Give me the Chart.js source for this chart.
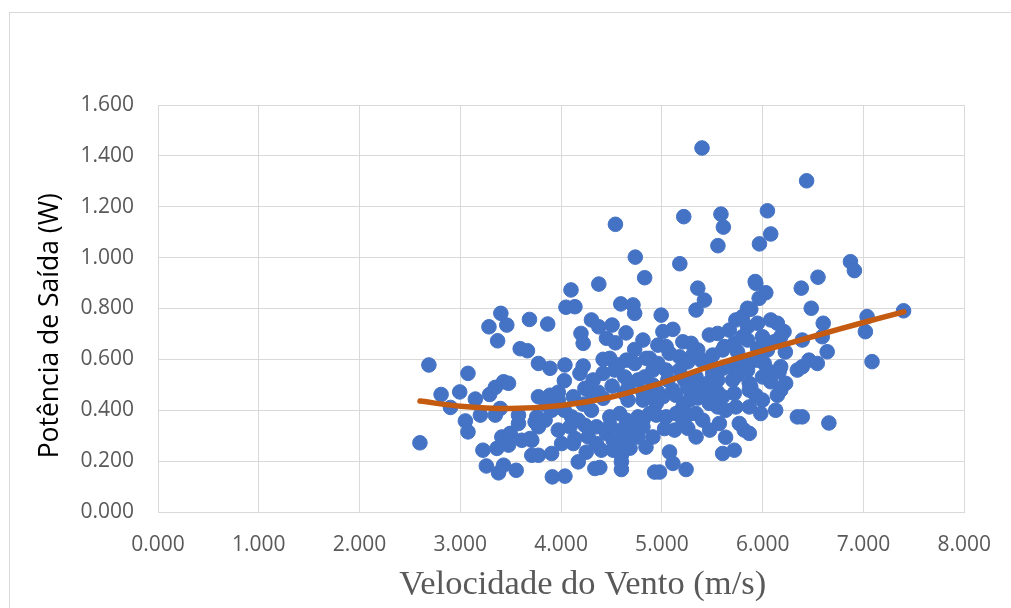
<!DOCTYPE html>
<html>
<head>
<meta charset="utf-8">
<script src="https://cdn.jsdelivr.net/npm/chart.js@4.4.4/dist/chart.umd.min.js"></script>
<style>
  html, body { margin: 0; padding: 0; background: #fff; overflow: hidden; }
  #wrap { position: relative; width: 1011px; height: 608px; }
  #frame { position: absolute; left: 9px; top: 12px; width: 1100px; height: 700px; border: 1px solid #d9d9d9; }
  #chart { position: absolute; left: 0; top: 0; }
</style>
</head>
<body>
<div id="wrap">
  <div id="frame"></div>
  <canvas id="chart" width="1011" height="608"></canvas>
</div>
<script>
const windSpeed = [
  5.398, 6.436, 4.539, 5.217, 5.586, 5.610, 6.047, 6.080, 5.968, 5.556, 4.736, 5.178, 6.871, 6.910, 4.374, 4.829, 5.926, 6.549,
  3.402, 3.284, 3.461, 3.370, 3.686, 3.594, 3.666, 3.867, 2.688, 2.599, 2.809, 2.902, 2.994, 3.076, 3.050, 3.076, 3.149, 3.199,
  3.291, 3.347, 3.429, 3.478, 3.347, 3.396, 3.224, 3.363, 3.258, 3.379, 3.429, 3.554, 3.412, 3.495, 3.478, 3.577, 3.577, 3.610,
  3.709, 3.709, 3.758, 3.775, 3.775, 3.775,
  4.197, 4.219, 4.301, 4.048, 4.137, 3.890, 4.038, 4.032, 4.187, 3.890, 4.121, 4.236, 4.301, 3.742, 3.906, 3.692, 4.170, 3.913,
  4.038, 4.335, 4.121, 4.005,
  4.098, 4.592, 4.713, 4.730, 4.374, 4.506, 4.450, 4.539, 4.730, 4.845, 4.417, 4.483, 4.565, 4.647, 4.730, 4.417, 4.533, 4.631,
  4.286, 4.763, 4.829, 3.906, 4.104, 4.301, 4.483, 4.582, 4.647, 4.763, 3.841, 3.972, 4.088, 4.236, 4.351, 4.450, 4.516, 4.598,
  4.615, 4.730, 4.763, 4.137, 4.269, 4.351, 4.400, 4.516, 4.598, 4.598, 4.384, 4.598, 3.775, 4.812, 3.972, 4.417, 4.664, 4.862,
  4.219,
  5.356, 5.422, 5.339, 4.993, 5.010, 5.109, 5.042, 5.076, 4.878, 4.960, 5.208, 5.290, 5.471, 5.553, 5.669, 5.734, 5.800, 5.850,
  5.175, 5.306, 5.388, 5.620, 5.718, 5.800, 4.911, 5.042, 5.175, 5.224, 5.339, 5.504, 5.603, 5.685, 5.800, 5.882, 5.867, 5.867,
  5.702, 5.603, 5.718, 5.438, 5.471, 5.553, 5.274, 5.208, 4.812, 4.944, 5.010, 4.878, 4.944, 5.042, 5.141, 5.208, 5.339, 5.405,
  4.812, 4.911, 5.027, 5.125, 5.570, 5.734, 5.768, 5.817, 5.339, 5.603, 5.718, 5.076, 4.977, 5.109, 5.240, 4.928, 5.867, 5.356,
  5.553, 5.109,
  5.932, 6.031, 6.383, 5.965, 5.882, 6.482, 7.398, 7.036, 7.019, 7.085, 6.601, 6.591, 6.393, 6.640, 6.080, 6.146, 6.212, 5.949,
  5.998, 6.114, 6.179, 5.850, 5.850, 6.459, 6.542, 6.344, 6.393, 6.179, 6.163, 6.015, 6.047, 5.998, 6.080, 6.228, 6.179, 5.882,
  5.932, 5.850, 5.981, 6.129, 6.344, 6.393, 6.657, 5.867,
  4.506, 4.368, 4.625, 4.911, 5.059, 5.257, 4.960, 5.474, 5.632, 5.751, 6.047, 6.225, 5.949, 4.842, 4.249, 4.486, 4.684, 4.170,
  4.032, 5.257, 5.356, 5.504, 4.960, 4.812, 4.644, 5.455, 5.751, 5.632, 5.998, 6.146,
  4.664, 4.812, 5.138, 5.356, 5.553, 5.474, 5.257, 5.603, 5.949, 4.318, 4.219, 4.684, 3.972, 3.854, 5.257
]

const outputPower = [
  1.431, 1.302, 1.131, 1.161, 1.171, 1.120, 1.184, 1.093, 1.054, 1.047, 1.002, 0.976, 0.984, 0.949, 0.896, 0.921, 0.906, 0.923,
  0.781, 0.728, 0.735, 0.673, 0.757, 0.642, 0.634, 0.739, 0.578, 0.272, 0.462, 0.411, 0.472, 0.545, 0.358, 0.315, 0.444, 0.381,
  0.462, 0.490, 0.512, 0.506, 0.381, 0.407, 0.243, 0.250, 0.181, 0.154, 0.184, 0.164, 0.295, 0.309, 0.263, 0.348, 0.381, 0.282,
  0.282, 0.223, 0.374, 0.584, 0.453, 0.335,
  0.702, 0.663, 0.755, 0.805, 0.807, 0.565, 0.578, 0.516, 0.545, 0.459, 0.453, 0.486, 0.466, 0.354, 0.230, 0.289, 0.197, 0.138,
  0.141, 0.171, 0.269, 0.269,
  0.873, 0.818, 0.814, 0.781, 0.728, 0.735, 0.683, 0.665, 0.639, 0.604, 0.600, 0.604, 0.578, 0.597, 0.584, 0.545, 0.558, 0.531,
  0.492, 0.519, 0.531, 0.400, 0.374, 0.400, 0.374, 0.387, 0.361, 0.374, 0.361, 0.322, 0.335, 0.341, 0.335, 0.309, 0.282, 0.322,
  0.269, 0.335, 0.295, 0.289, 0.295, 0.269, 0.243, 0.243, 0.223, 0.197, 0.175, 0.167, 0.223, 0.361, 0.440, 0.447, 0.440, 0.456,
  0.424,
  0.880, 0.833, 0.794, 0.774, 0.709, 0.718, 0.650, 0.624, 0.604, 0.584, 0.669, 0.663, 0.696, 0.702, 0.715, 0.755, 0.768, 0.801,
  0.610, 0.617, 0.597, 0.650, 0.663, 0.689, 0.558, 0.558, 0.558, 0.519, 0.531, 0.545, 0.565, 0.571, 0.584, 0.591, 0.506, 0.479,
  0.519, 0.453, 0.466, 0.466, 0.427, 0.413, 0.440, 0.413, 0.440, 0.427, 0.453, 0.387, 0.381, 0.374, 0.387, 0.361, 0.387, 0.361,
  0.335, 0.295, 0.328, 0.322, 0.348, 0.413, 0.348, 0.322, 0.295, 0.230, 0.243, 0.236, 0.157, 0.191, 0.167, 0.157, 0.413, 0.499,
  0.519, 0.479,
  0.899, 0.862, 0.880, 0.840, 0.797, 0.801, 0.791, 0.768, 0.709, 0.591, 0.742, 0.689, 0.676, 0.630, 0.755, 0.742, 0.709, 0.742,
  0.689, 0.669, 0.689, 0.728, 0.676, 0.597, 0.584, 0.558, 0.571, 0.571, 0.551, 0.584, 0.558, 0.531, 0.512, 0.506, 0.479, 0.492,
  0.459, 0.558, 0.387, 0.400, 0.374, 0.374, 0.350, 0.309,
  0.495, 0.471, 0.467, 0.499, 0.519, 0.487, 0.471, 0.322, 0.294, 0.629, 0.637, 0.629, 0.644, 0.255, 0.235, 0.341, 0.302, 0.361,
  0.400, 0.329, 0.637, 0.617, 0.656, 0.676, 0.704, 0.506, 0.538, 0.400, 0.440, 0.459,
  0.487, 0.471, 0.459, 0.448, 0.471, 0.590, 0.590, 0.637, 0.597, 0.519, 0.574, 0.251, 0.471, 0.420, 0.381
]

// Polynomial trendline
const trendSpeed = [2.6, 3.0, 3.5, 4.0, 4.5, 5.0, 5.5, 6.0, 6.5, 7.0, 7.4]
const trendPower = [0.436, 0.416, 0.407, 0.419, 0.452, 0.508, 0.575, 0.634, 0.690, 0.745, 0.787]

// Axis ticks
const xTicks = [0, 1, 2, 3, 4, 5, 6, 7, 8]
const yTicks = [0, 0.2, 0.4, 0.6, 0.8, 1.0, 1.2, 1.4, 1.6]

const gridColor = "#d9d9d9"
const tickColor = "#595959"

const scatterPoints = windSpeed.map((v, i) => ({ x: v, y: outputPower[i] }))
const trendPoints = trendSpeed.map((v, i) => ({ x: v, y: trendPower[i] }))

const ctx = document.getElementById("chart").getContext("2d")

new Chart(ctx, {
  type: "scatter",
  data: {
    datasets: [
      {
        type: "line",
        label: "Tendência",
        data: trendPoints,
        borderColor: "#c55a11",
        borderWidth: 5.5,
        borderCapStyle: "round",
        fill: false,
        tension: 0.4,
        pointRadius: 0,
        order: 0
      },
      {
        label: "Potência",
        data: scatterPoints,
        backgroundColor: "#4472c4",
        borderColor: "#4472c4",
        borderWidth: 1,
        pointRadius: 7.3,
        pointHoverRadius: 7.3,
        order: 1
      }
    ]
  },
  options: {
    responsive: false,
    animation: false,
    layout: { padding: { left: 30, right: 45, top: 105, bottom: 0 } },
    plugins: {
      legend: { display: false },
      tooltip: { enabled: false }
    },
    scales: {
      x: {
        type: "linear",
        min: xTicks[0],
        max: xTicks[xTicks.length - 1],
        afterFit: (s) => { s.height = 96 },
        afterBuildTicks: (s) => { s.ticks = xTicks.map(v => ({ value: v })) },
        ticks: {
          color: tickColor,
          padding: 20,
          font: { family: "Open Sans", size: 21 },
          callback: (v) => Number(v).toFixed(3)
        },
        grid: { color: gridColor, lineWidth: 1, drawTicks: false },
        border: { color: gridColor },
        title: {
          display: true,
          // leading spaces nudge the centred title right, as in the original
          text: "     Velocidade do Vento (m/s)",
          color: tickColor,
          font: { family: "Liberation Serif", size: 34.5 },
          padding: { top: 0, bottom: 2 }
        }
      },
      y: {
        type: "linear",
        min: yTicks[0],
        max: yTicks[yTicks.length - 1],
        afterFit: (s) => { s.width = 128 },
        afterBuildTicks: (s) => { s.ticks = yTicks.map(v => ({ value: v })) },
        ticks: {
          color: tickColor,
          padding: 24,
          font: { family: "Open Sans", size: 21 },
          callback: (v) => Number(v).toFixed(3)
        },
        grid: { color: gridColor, lineWidth: 1, drawTicks: false },
        border: { color: gridColor },
        title: {
          display: true,
          // trailing spaces push the rotated title down a little
          text: "Potência de Saída (W)     ",
          color: "#000000",
          font: { family: "Open Sans", size: 26.5 },
          padding: { top: 5, bottom: 0 }
        }
      }
    }
  }
})
</script>
</body>
</html>
